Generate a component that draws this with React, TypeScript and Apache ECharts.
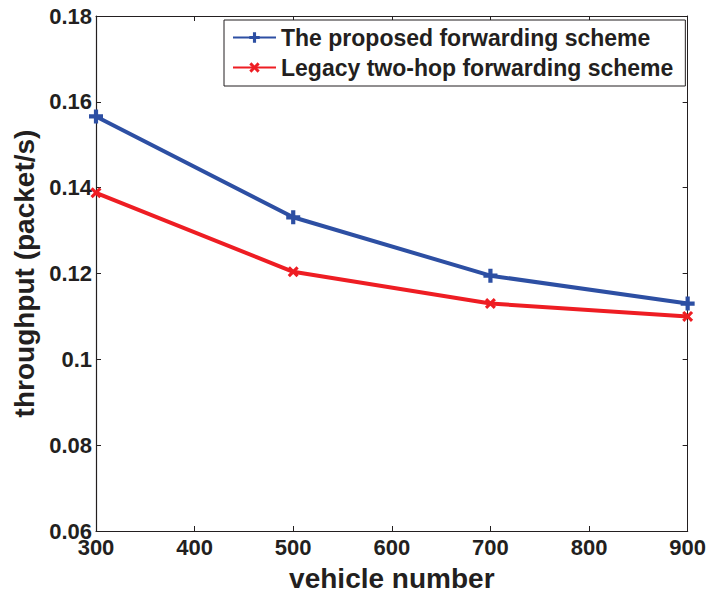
import React, { useEffect, useRef } from "react";
import * as echarts from "echarts";

const vehicleNumbers = [300, 500, 700, 900];
const proposedThroughput = [0.1566, 0.1331, 0.1195, 0.1130];
const legacyThroughput = [0.1388, 0.1204, 0.1130, 0.1100];
const seriesNames = ["The proposed forwarding scheme", "Legacy two-hop forwarding scheme"];

const PLUS = "path://M3.5,0 L6.5,0 L6.5,3.5 L10,3.5 L10,6.5 L6.5,6.5 L6.5,10 L3.5,10 L3.5,6.5 L0,6.5 L0,3.5 L3.5,3.5 Z";
const CROSS = "path://M2,0 L5,3 L8,0 L10,2 L7,5 L10,8 L8,10 L5,7 L2,10 L0,8 L3,5 L0,2 Z";

export default function App() {
  const ref = useRef<HTMLDivElement>(null);
  useEffect(() => {
    document.body.style.margin = "0";
    const chart = echarts.init(ref.current!, null, { renderer: "svg" });
    const font = "'Liberation Sans', Arial, sans-serif";
    const ink = "#231f20";
    const fmt = (v: number) => String(+(+v).toFixed(2));
    chart.setOption({
      animation: false,
      backgroundColor: "#ffffff",
      textStyle: { fontFamily: font },
      grid: { left: 96, right: 21, top: 16, bottom: 62 },
      legend: {
        orient: "vertical",
        left: 224,
        top: 20,
        backgroundColor: "#fff",
        borderColor: ink,
        borderWidth: 1,
        padding: [6, 12, 7, 8],
        itemGap: 7,
        itemWidth: 43,
        itemHeight: 13,
        textStyle: { fontFamily: font, fontWeight: "bold", fontSize: 23, color: ink },
        data: seriesNames,
      },
      xAxis: [
        {
          type: "value",
          min: 300,
          max: 900,
          interval: 100,
          name: "vehicle number",
          nameLocation: "middle",
          nameGap: 33,
          nameTextStyle: { fontFamily: font, fontWeight: "bold", fontSize: 28, color: ink },
          axisLine: { lineStyle: { color: ink, width: 1.2 } },
          axisTick: { inside: true, length: 5, lineStyle: { color: ink } },
          axisLabel: { fontFamily: font, fontWeight: "bold", fontSize: 22, color: ink, margin: 5 },
          splitLine: { show: false },
        },
        {
          type: "value",
          position: "top",
          min: 300,
          max: 900,
          interval: 100,
          axisLine: { lineStyle: { color: ink, width: 1 } },
          axisTick: { inside: true, length: 5, lineStyle: { color: ink } },
          axisLabel: { show: false },
          splitLine: { show: false },
        },
      ],
      yAxis: [
        {
          type: "value",
          min: 0.06,
          max: 0.18,
          interval: 0.02,
          name: "throughput (packet/s)",
          nameLocation: "middle",
          nameGap: 57,
          nameTextStyle: { fontFamily: font, fontWeight: "bold", fontSize: 28, color: ink },
          axisLine: { lineStyle: { color: ink, width: 1.2 } },
          axisTick: { inside: true, length: 5, lineStyle: { color: ink } },
          axisLabel: { fontFamily: font, fontWeight: "bold", fontSize: 22, color: ink, margin: 4, formatter: fmt },
          splitLine: { show: false },
        },
        {
          type: "value",
          position: "right",
          min: 0.06,
          max: 0.18,
          interval: 0.02,
          axisLine: { lineStyle: { color: ink, width: 1 } },
          axisTick: { inside: true, length: 5, lineStyle: { color: ink } },
          axisLabel: { show: false },
          splitLine: { show: false },
        },
      ],
      series: [
        {
          name: seriesNames[0],
          type: "line",
          data: vehicleNumbers.map((x, i) => [x, proposedThroughput[i]]),
          symbol: PLUS,
          symbolSize: 14,
          lineStyle: { color: "#2d4fa3", width: 4 },
          itemStyle: { color: "#2d4fa3" },
          clip: false,
          z: 3,
        },
        {
          name: seriesNames[1],
          type: "line",
          data: vehicleNumbers.map((x, i) => [x, legacyThroughput[i]]),
          symbol: CROSS,
          symbolSize: 11,
          lineStyle: { color: "#ee1d23", width: 4 },
          itemStyle: { color: "#ee1d23" },
          clip: false,
          z: 2,
        },
      ],
    });
    return () => chart.dispose();
  }, []);
  return <div ref={ref} style={{ width: 709, height: 597 }} />;
}
